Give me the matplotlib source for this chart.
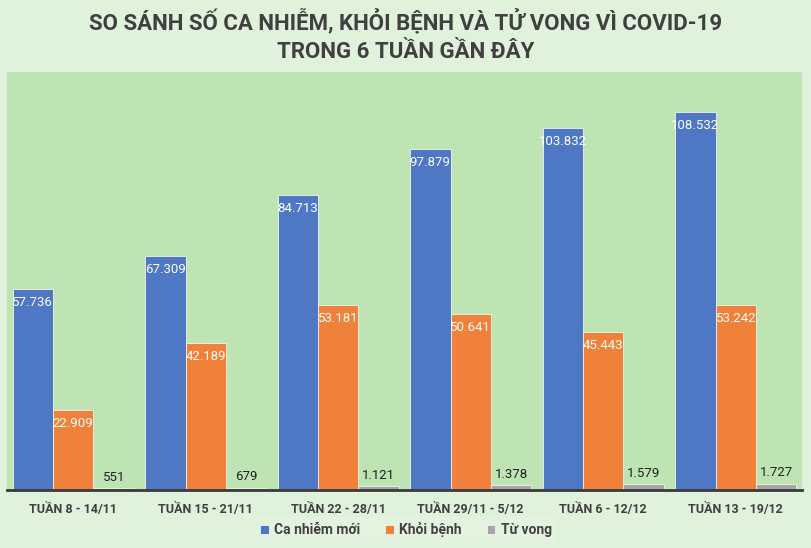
import numpy as np
import matplotlib.pyplot as plt

plt.rcParams['font.family'] = ['Roboto', 'DejaVu Sans']

# --- dữ liệu ---
weeks = ['TUẦN 8 - 14/11', 'TUẦN 15 - 21/11', 'TUẦN 22 - 28/11',
         'TUẦN 29/11 - 5/12', 'TUẦN 6 - 12/12', 'TUẦN 13 - 19/12']
ca_nhiem = [57736, 67309, 84713, 97879, 103832, 108532]
khoi_benh = [22909, 42189, 53181, 50641, 45443, 53242]
tu_vong = [551, 679, 1121, 1378, 1579, 1727]
series_names = ['Ca nhiễm mới', 'Khỏi bệnh', 'Từ vong']

colors = ['#4f78c4', '#f0813a', '#a5a5a5']
fig_bg = '#e0f1dc'
plot_bg = '#bee4b4'


def fmt(v):
    return f'{v:,}'.replace(',', '.')


fig = plt.figure(figsize=(8.12, 5.48), dpi=100, facecolor=fig_bg)
ax = fig.add_axes([7 / 812, 58 / 548, 795 / 812, 418 / 548])
ax.set_facecolor(plot_bg)

x = np.arange(len(weeks))
w = 0.305
all_series = [ca_nhiem, khoi_benh, tu_vong]
for i, (vals, name, c) in enumerate(zip(all_series, series_names, colors)):
    pos = x + (i - 1) * w
    bars = ax.bar(pos, vals, width=w, color=c, edgecolor='#f4f4ee', linewidth=0.6, label=name)
    for b, v in zip(bars, vals):
        if i < 2:
            ax.text(b.get_x() + b.get_width() / 2, v - 2000, fmt(v), ha='center', va='top',
                    color='white', fontsize=9.5)
        else:
            ax.text(b.get_x() + b.get_width() / 2, v + 1300, fmt(v), ha='center', va='bottom',
                    color='#222222', fontsize=9.5)

ax.set_xlim(-0.5, len(weeks) - 0.5)
ax.set_ylim(0, 120000)
ax.set_yticks([])
ax.set_xticks(x)
ax.set_xticklabels(weeks, fontsize=9, fontweight='bold', color='#404040')
ax.tick_params(axis='x', length=0, pad=9)
for s in ['top', 'right', 'left']:
    ax.spines[s].set_visible(False)
ax.spines['bottom'].set_color('#3a3a3a')
ax.spines['bottom'].set_linewidth(2)

fig.text(0.5, 0.984, 'SO SÁNH SỐ CA NHIỄM, KHỎI BỆNH VÀ TỬ VONG VÌ COVID-19\nTRONG 6 TUẦN GẦN ĐÂY',
         ha='center', va='top', fontsize=16, fontweight='bold', color='#404040', linespacing=1.4)

leg = fig.legend(loc='center', bbox_to_anchor=(0.5, 0.033), ncol=3, frameon=True,
                 fontsize=10, handlelength=0.6, handleheight=0.6, handletextpad=0.4,
                 columnspacing=1.8, borderpad=0.4)
leg.get_frame().set_facecolor('#e6f4e2')
leg.get_frame().set_edgecolor('none')
for t in leg.get_texts():
    t.set_color('#404040')
    t.set_fontweight('bold')

plt.savefig('out.png', dpi=100, facecolor=fig_bg)
